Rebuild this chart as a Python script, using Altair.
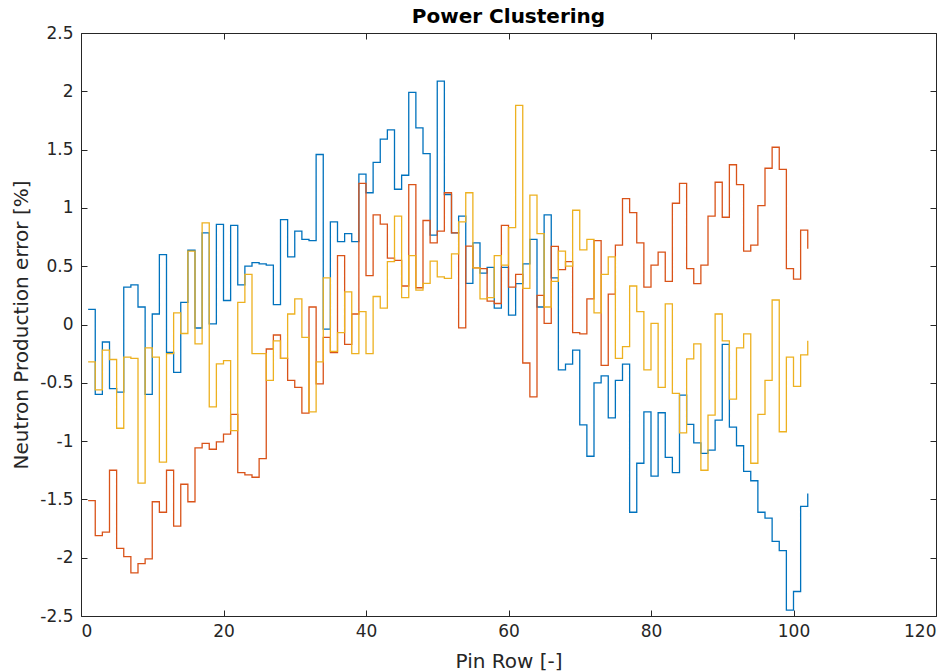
import altair as alt
import pandas as pd

pins = list(range(1, 103))

blue = [0.13, -0.6, -0.15, -0.55, -0.58, 0.32, 0.34, 0.15, -0.6, 0.09,
        0.6, -0.24, -0.41, 0.19, 0.637, -0.03, 0.786, 0.006, 0.858, 0.206,
        0.85, 0.34, 0.5, 0.53, 0.52, 0.51, 0.17, 0.9, 0.58, 0.8,
        0.73, 0.72, 1.458, -0.04, 0.88, 0.71, 0.78, 0.71, 1.29, 1.13,
        1.39, 1.59, 1.67, 1.16, 1.28, 1.99, 1.687, 1.466, 0.766, 2.087,
        1.115, 0.786, 0.929, 0.352, 0.70, 0.44, 0.49, 0.14, 0.49, 0.08,
        0.35, 0.52, 0.73, 0.15, 0.94, 0.4, -0.39, -0.34, -0.22, -0.86,
        -1.13, -0.5, -0.44, -0.8, -0.48, -0.34, -1.61, -1.19, -0.75, -1.3,
        -0.757, -1.14, -1.27, -0.606, -0.857, -1.015, -1.106, -1.078, -0.82, -0.17,
        -0.88, -1.04, -1.26, -1.34, -1.61, -1.66, -1.86, -1.94, -2.45, -2.29,
        -1.56, -1.45]

red = [-1.51, -1.81, -1.78, -1.25, -1.92, -1.99, -2.13, -2.05, -2.01, -1.52,
       -1.61, -1.25, -1.73, -1.37, -1.52, -1.058, -1.02, -1.07, -1.006, -0.94,
       -0.77, -1.27, -1.29, -1.31, -1.15, -0.21, -0.09, -0.29, -0.48, -0.54,
       -0.76, 0.15, -0.51, -0.11, -0.24, 0.59, -0.17, 0.09, 1.21, 0.42,
       0.94, 0.86, 0.57, 0.55, 0.33, 1.2, 0.315, 0.892, 0.70, 0.80,
       1.13, 0.786, -0.029, 0.672, 0.486, 0.48, 0.2, 0.18, 0.85, 0.32,
       0.43, -0.33, -0.62, 0.25, 0.01, 0.67, 0.47, 0.54, -0.07, -0.08,
       0.22, 0.72, -0.35, 0.26, 0.68, 1.08, 0.96, 0.7, 0.32, 0.51,
       0.62, 0.37, 1.04, 1.21, 0.48, 0.35, 0.51, 0.93, 1.22, 0.92,
       1.37, 1.2, 0.63, 0.68, 1.02, 1.34, 1.52, 1.33, 0.48, 0.39,
       0.81, 0.65]

yellow = [-0.32, -0.56, -0.22, -0.30, -0.89, -0.28, -0.29, -1.36, -0.2, -0.28,
          -1.18, -0.25, 0.1, -0.077, 0.63, -0.166, 0.872, -0.706, -0.337, -0.309,
          -0.91, 0.19, 0.43, -0.25, -0.25, -0.48, -0.14, -0.29, 0.09, 0.22,
          -0.11, -0.75, -0.32, 0.40, -0.23, -0.07, 0.28, -0.25, 0.11, -0.25,
          0.24, 0.14, 0.54, 0.93, 0.23, 0.59, 0.295, 0.352, 0.543, 0.409,
          0.395, 0.606, 0.88, 1.13, 0.486, 0.22, 0.23, 0.59, 0.51, 0.83,
          1.88, 0.31, 1.11, 0.78, 0.15, 0.37, 0.63, 0.50, 0.98, 0.64,
          0.73, 0.10, 0.43, 0.58, -0.29, -0.19, 0.33, 0.11, -0.39, 0.01,
          -0.54, 0.177, -0.59, -0.93, -0.294, -0.166, -1.25, -0.778, 0.09, -0.14,
          -0.64, -0.2, -0.08, -1.19, -0.77, -0.48, 0.21, -0.92, -0.28, -0.53,
          -0.26, -0.14]

series_names = ["A", "B", "C"]
series_colors = ["#0072BD", "#D95319", "#EDB120"]
x_ticks = [0, 20, 40, 60, 80, 100, 120]
y_ticks = [-2.5, -2, -1.5, -1, -0.5, 0, 0.5, 1, 1.5, 2, 2.5]

rows = []
for name, vals in zip(series_names, [blue, red, yellow]):
    for p, v in zip(pins, vals):
        rows.append({"pin": p, "value": v, "series": name})
df = pd.DataFrame(rows)

FONT = "DejaVu Sans"
TXT = "#262626"

xscale = alt.Scale(domain=[0, 120], nice=False)
yscale = alt.Scale(domain=[-2.5, 2.5], nice=False)
cscale = alt.Scale(domain=series_names, range=series_colors)

main = alt.Chart(df).mark_line(interpolate="step-after", strokeWidth=1.3).encode(
    x=alt.X("pin:Q", scale=xscale, title="Pin Row [-]",
            axis=alt.Axis(orient="bottom", values=x_ticks, offset=-6, tickSize=6,
                          domain=False, grid=False, labelPadding=7,
                          labelExpr="'' + datum.value", titlePadding=12)),
    y=alt.Y("value:Q", scale=yscale, title="Neutron Production error [%]",
            axis=alt.Axis(orient="left", values=y_ticks, offset=-6, tickSize=6,
                          domain=False, grid=False, labelPadding=8,
                          labelExpr="'' + datum.value", titlePadding=8)),
    color=alt.Color("series:N", scale=cscale, legend=None),
    detail="series:N",
)

frame = alt.Chart(df).mark_line(strokeOpacity=0).encode(
    x=alt.X("pin:Q", scale=xscale, title=None,
            axis=alt.Axis(orient="top", values=x_ticks, offset=-6, tickSize=6,
                          domain=False, grid=False, labels=False)),
    y=alt.Y("value:Q", scale=yscale, title=None,
            axis=alt.Axis(orient="right", values=y_ticks, offset=-6, tickSize=6,
                          domain=False, grid=False, labels=False)),
    detail="series:N",
)

chart = alt.layer(main, frame).resolve_axis(
    x="independent", y="independent"
).properties(
    width=855,
    height=583,
    background="white",
    title=alt.TitleParams("Power Clustering", font=FONT, fontSize=20,
                          fontWeight="bold", color="#000000", anchor="middle",
                          offset=-3),
    autosize=alt.AutoSizeParams(type="none"),
    padding={"left": 81, "top": 33, "right": 16, "bottom": 56},
).configure_view(
    stroke=TXT, strokeWidth=1
).configure_axis(
    labelFont=FONT, titleFont=FONT, labelFontSize=17, titleFontSize=20,
    labelColor=TXT, titleColor=TXT, tickColor=TXT, tickWidth=1,
    titleFontWeight="normal"
)

chart.save("out.html", embed_options={"renderer": "svg", "actions": False})
